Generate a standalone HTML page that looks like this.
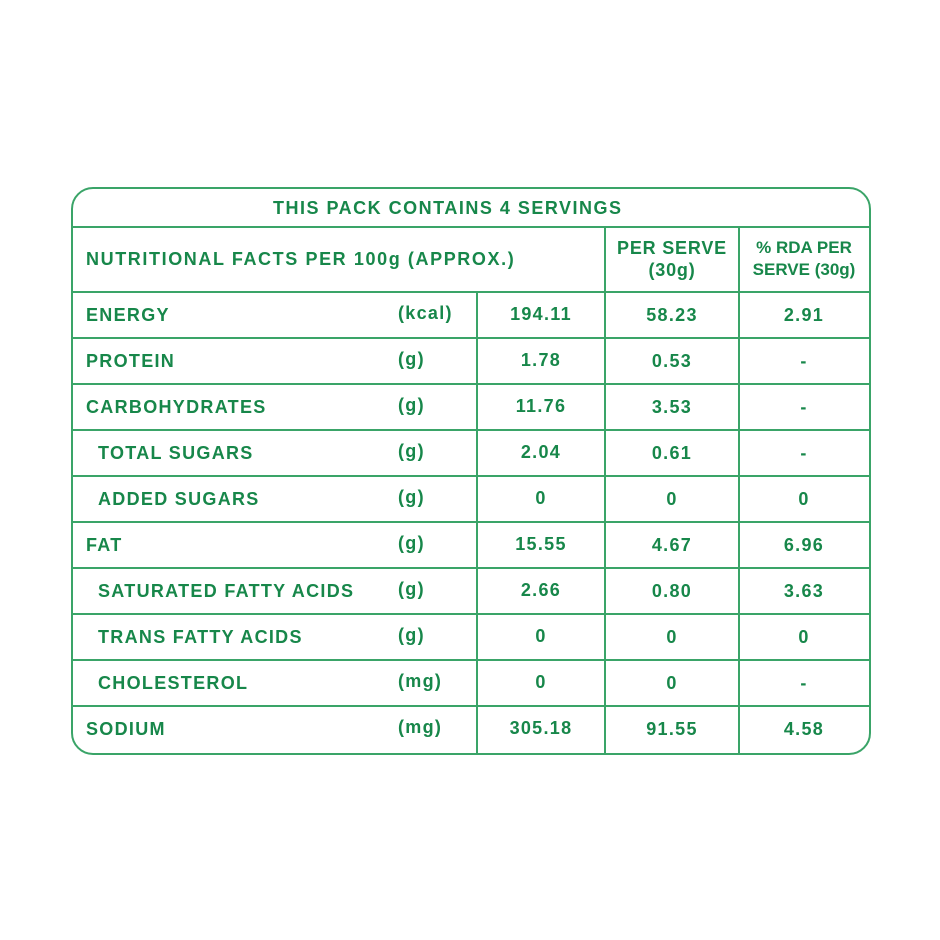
<!DOCTYPE html>
<html><head><style>
body{margin:0;width:940px;height:940px;background:#fff;position:relative;font-family:"Liberation Sans",sans-serif;font-weight:bold;color:#17874a;font-size:18px;letter-spacing:1.3px;}
.box{position:absolute;left:71px;top:187px;width:796px;height:564px;border:2px solid #3aa468;border-radius:22px;}
.h{position:absolute;height:2px;background:#3aa468;left:71px;width:798px;}
.v{position:absolute;width:2px;background:#3aa468;}
.t{position:absolute;white-space:nowrap;}
.c{position:absolute;text-align:center;white-space:nowrap;}
</style></head><body>
<div class="box"></div>
<div class="h" style="top:226px"></div>
<div class="h" style="top:291px"></div>
<div class="h" style="top:337px"></div>
<div class="h" style="top:383px"></div>
<div class="h" style="top:429px"></div>
<div class="h" style="top:475px"></div>
<div class="h" style="top:521px"></div>
<div class="h" style="top:567px"></div>
<div class="h" style="top:613px"></div>
<div class="h" style="top:659px"></div>
<div class="h" style="top:705px"></div>
<div class="v" style="left:476px;top:291px;height:462px"></div>
<div class="v" style="left:604px;top:226px;height:527px"></div>
<div class="v" style="left:738px;top:226px;height:527px"></div>
<div class="t" style="left:273px;top:198px;letter-spacing:1.5px">THIS PACK CONTAINS 4 SERVINGS</div>
<div class="t" style="left:86px;top:249px;letter-spacing:1.6px">NUTRITIONAL FACTS PER 100g (APPROX.)</div>
<div class="c" style="left:606px;width:132px;top:237px;line-height:22px;letter-spacing:0.8px">PER SERVE<br>(30g)</div>
<div class="c" style="left:740px;width:128px;top:237px;line-height:22px;letter-spacing:0;font-size:17px">% RDA PER<br>SERVE (30g)</div>
<div id="rows"></div>
<script>
var r=[["ENERGY","(kcal)","194.11","58.23","2.91",86],["PROTEIN","(g)","1.78","0.53","-",86],["CARBOHYDRATES","(g)","11.76","3.53","-",86],["TOTAL SUGARS","(g)","2.04","0.61","-",98],["ADDED SUGARS","(g)","0","0","0",98],["FAT","(g)","15.55","4.67","6.96",86],["SATURATED FATTY ACIDS","(g)","2.66","0.80","3.63",98],["TRANS FATTY ACIDS","(g)","0","0","0",98],["CHOLESTEROL","(mg)","0","0","-",98],["SODIUM","(mg)","305.18","91.55","4.58",86]];
var h="";r.forEach(function(a,i){var y=305+i*46;
h+='<div class="t" style="left:'+a[5]+'px;top:'+y+'px">'+a[0]+'</div><div class="t" style="left:398px;top:'+(y-2)+'px">'+a[1]+'</div><div class="c" style="left:478px;width:126px;top:'+(y-1)+'px">'+a[2]+'</div><div class="c" style="left:606px;width:132px;top:'+y+'px">'+a[3]+'</div><div class="c" style="left:740px;width:128px;top:'+y+'px">'+a[4]+'</div>';});
document.getElementById("rows").innerHTML=h;
</script>
</body></html>
